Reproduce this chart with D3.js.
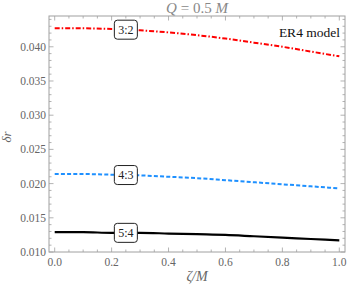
<!DOCTYPE html>
<html>
<head>
<meta charset="utf-8">
<script src="https://cdn.jsdelivr.net/npm/d3@7"></script>
<style>
  body { margin: 0; background: #fff; }
  text { font-family: "Liberation Serif", "DejaVu Serif", serif; }
</style>
</head>
<body>
<svg id="chart" width="347" height="287"></svg>
<script>
// data
const zeta = [0, 0.1, 0.2, 0.3, 0.4, 0.5, 0.6, 0.7, 0.8, 0.9, 1.0];
const r32 = [0.0427, 0.0427, 0.0426, 0.0424, 0.0421, 0.0417, 0.0412, 0.0406, 0.0400, 0.0393, 0.0386];
const r43 = [0.0214, 0.0214, 0.0213, 0.0212, 0.0210, 0.0208, 0.0205, 0.0202, 0.0199, 0.0196, 0.0193];
const r54 = [0.0129, 0.0129, 0.0128, 0.0128, 0.0127, 0.0126, 0.0125, 0.0123, 0.0121, 0.0119, 0.0117];
const xTicks = [0, 0.2, 0.4, 0.6, 0.8, 1.0];
const yTicks = [0.010, 0.015, 0.020, 0.025, 0.030, 0.035, 0.040];
const series = [
  {name: '3:2', values: r32, color: '#ff0000', dash: '5,2,1.5,2', width: 2},
  {name: '4:3', values: r43, color: '#1e90ff', dash: '4,2.2', width: 2},
  {name: '5:4', values: r54, color: '#000000', dash: null, width: 2.2}
];
const labelAt = 0.25;

const svg = d3.select('#chart');
const m = {left: 49, right: 345, top: 16, bottom: 252};

const x = d3.scaleLinear().domain([-0.02, 1.02]).range([m.left, m.right]);
const y = d3.scaleLinear().domain([0.010, 0.0445]).range([m.bottom, m.top]);

const frameColor = '#a0a0a0';
const tickText = '#666';

// ticks inside the frame on all sides
const g = svg.append('g');
const xMinor = d3.range(0, 1.0001, 0.05);
const yMinor = d3.range(0.010, 0.0445, 0.001);
const isMajor = (ticks, d) => ticks.some(t => Math.abs(t - d) < 1e-6);

[[m.bottom, -1], [m.top, 1]].forEach(([yy, dir]) => {
  g.selectAll(null).data(xMinor).enter().append('line')
    .attr('x1', d => x(d)).attr('x2', d => x(d))
    .attr('y1', yy).attr('y2', d => yy + dir * (isMajor(xTicks, d) ? 4.5 : 2.5))
    .attr('stroke', frameColor).attr('stroke-width', 0.8);
});
[[m.left, 1], [m.right, -1]].forEach(([xx, dir]) => {
  g.selectAll(null).data(yMinor).enter().append('line')
    .attr('y1', d => y(d)).attr('y2', d => y(d))
    .attr('x1', xx).attr('x2', d => xx + dir * (isMajor(yTicks, d) ? 4.5 : 2.5))
    .attr('stroke', frameColor).attr('stroke-width', 0.8);
});

svg.append('rect')
  .attr('x', m.left).attr('y', m.top)
  .attr('width', m.right - m.left).attr('height', m.bottom - m.top)
  .attr('fill', 'none').attr('stroke', frameColor).attr('stroke-width', 1);

// tick labels
svg.selectAll('.xl').data(xTicks).enter().append('text')
  .attr('x', d => x(d)).attr('y', 266)
  .attr('text-anchor', 'middle').attr('font-size', 11.5).attr('fill', tickText)
  .text(d => d.toFixed(1));
svg.selectAll('.yl').data(yTicks).enter().append('text')
  .attr('x', 46).attr('y', d => y(d) + 4)
  .attr('text-anchor', 'end').attr('font-size', 11.5).attr('fill', tickText)
  .text(d => d.toFixed(3));

// lines
const line = d3.line().x((d, i) => x(zeta[i])).y(d => y(d)).curve(d3.curveMonotoneX);
series.forEach(s => {
  svg.append('path')
    .attr('d', line(s.values))
    .attr('fill', 'none')
    .attr('stroke', s.color)
    .attr('stroke-width', s.width)
    .attr('stroke-dasharray', s.dash);
});

// labels on the curves
series.forEach(s => {
  const i = d3.bisectLeft(zeta, labelAt);
  const t = (labelAt - zeta[i - 1]) / (zeta[i] - zeta[i - 1]);
  const v = s.values[i - 1] + t * (s.values[i] - s.values[i - 1]);
  const cx = x(labelAt), cy = y(v);
  svg.append('rect')
    .attr('x', cx - 11.5).attr('y', cy - 9.5)
    .attr('width', 23).attr('height', 19)
    .attr('rx', 3).attr('ry', 3)
    .attr('fill', '#fff').attr('stroke', '#222').attr('stroke-width', 1);
  svg.append('text')
    .attr('x', cx).attr('y', cy + 4)
    .attr('text-anchor', 'middle').attr('font-size', 12).attr('fill', '#222')
    .text(s.name);
});

// title and annotation
const title = svg.append('text')
  .attr('x', 197).attr('y', 12.5)
  .attr('text-anchor', 'middle').attr('font-size', 15).attr('fill', '#888');
title.append('tspan').attr('font-style', 'italic').text('Q');
title.append('tspan').text(' = 0.5 ');
title.append('tspan').attr('font-style', 'italic').text('M');

svg.append('text')
  .attr('x', 340).attr('y', 36.5)
  .attr('text-anchor', 'end').attr('font-size', 13.5).attr('fill', '#111')
  .text('ER4 model');

// axis labels
svg.append('text')
  .attr('transform', 'translate(11,137) rotate(-90)')
  .attr('text-anchor', 'middle').attr('font-size', 13).attr('fill', tickText)
  .attr('font-style', 'italic')
  .text('δr');

svg.append('text')
  .attr('x', 197).attr('y', 281)
  .attr('text-anchor', 'middle').attr('font-size', 14).attr('fill', tickText)
  .attr('font-style', 'italic')
  .text('ζ/M');
</script>
</body>
</html>
